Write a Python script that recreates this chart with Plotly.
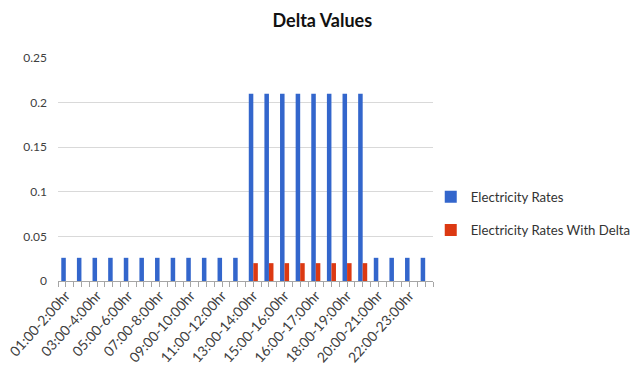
import numpy as np
import plotly.graph_objects as go

# Hourly slots (24 bars), labels shown on every other slot
hours = [
    "01:00-2:00hr", "02:00-3:00hr", "03:00-4:00hr", "04:00-5:00hr",
    "05:00-6:00hr", "06:00-7:00hr", "07:00-8:00hr", "08:00-9:00hr",
    "09:00-10:00hr", "10:00-11:00hr", "11:00-12:00hr", "12:00-13:00hr",
    "13:00-14:00hr", "14:00-15:00hr", "15:00-16:00hr", "15:30-16:30hr",
    "16:00-17:00hr", "17:00-18:00hr", "18:00-19:00hr", "19:00-20:00hr",
    "20:00-21:00hr", "21:00-22:00hr", "22:00-23:00hr", "23:00-24:00hr",
]
electricity_rates = [
    0.026, 0.026, 0.026, 0.026, 0.026, 0.026, 0.026, 0.026,
    0.026, 0.026, 0.026, 0.026, 0.21, 0.21, 0.21, 0.21,
    0.21, 0.21, 0.21, 0.21, 0.026, 0.026, 0.026, 0.026,
]
rates_with_delta = [
    0, 0, 0, 0, 0, 0, 0, 0,
    0, 0, 0, 0, 0.02, 0.02, 0.02, 0.02,
    0.02, 0.02, 0.02, 0.02, 0, 0, 0, 0,
]

x = np.arange(len(hours))

fig = go.Figure()
fig.add_trace(go.Bar(x=x, y=electricity_rates, name="Electricity Rates",
                     marker=dict(color="#3366CC", line=dict(width=0)),
                     legendgroup="a"))
fig.add_trace(go.Bar(x=x, y=rates_with_delta, name="Electricity Rates With Delta",
                     marker=dict(color="#DC3912", line=dict(width=0)),
                     legendgroup="b"))

fig.update_layout(
    width=632, height=371,
    margin=dict(l=58, r=199, t=58, b=90, autoexpand=False),
    paper_bgcolor="white", plot_bgcolor="white",
    barmode="group", bargap=0.42, bargroupgap=0,
    font=dict(family="Lato, Open Sans, sans-serif", color="#404040", size=12),
    title=dict(text="<b>Delta Values</b>", x=0.51, xanchor="center",
               y=0.945, yanchor="middle",
               font=dict(family="Lato, Open Sans, sans-serif", size=18, color="#111111")),
    showlegend=True,
    legend=dict(x=0.994, y=0.445, xanchor="left", yanchor="top",
                traceorder="grouped", tracegroupgap=13,
                font=dict(size=13.2, color="#333333"),
                itemwidth=30, bgcolor="rgba(0,0,0,0)"),
    xaxis=dict(
        range=[-0.5, len(hours) - 0.5],
        tickmode="array", tickvals=x[::2], ticktext=hours[::2],
        tickangle=-48, ticks="", showgrid=False,
        showline=True, linecolor="#A6A6A6", linewidth=1,
        tickfont=dict(size=14, color="#404040"),
        minor=dict(tickmode="array", tickvals=list(np.arange(-0.5, len(hours), 0.5)),
                   ticks="outside", ticklen=5, tickcolor="#A6A6A6", showgrid=False),
    ),
    yaxis=dict(
        range=[0, 0.25], tickvals=[0, 0.05, 0.1, 0.15, 0.2, 0.25],
        ticktext=["0", "0.05", "0.1", "0.15", "0.2", "0.25"],
        showgrid=True, gridcolor="#D9D9D9", gridwidth=1,
        zeroline=False, showline=False, ticks="",
        ticklabelstandoff=10,
        tickfont=dict(size=12, color="#404040"),
    ),
)

fig.write_html("out.html")
